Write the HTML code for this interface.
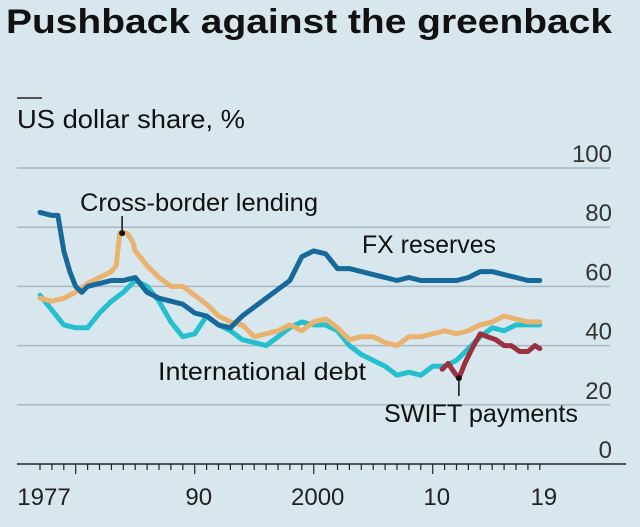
<!DOCTYPE html>
<html><head><meta charset="utf-8"><style>
body{margin:0;background:#d8e7ee;font-family:"Liberation Sans",sans-serif;}
svg{display:block}
</style></head><body>
<svg id="c" width="640" height="527">
<rect width="640" height="527" fill="#d8e7ee"/>
<text x="6" y="33" font-size="34" font-weight="bold" fill="#111" textLength="606" lengthAdjust="spacingAndGlyphs">Pushback against the greenback</text>
<line x1="17" y1="98" x2="42" y2="98" stroke="#222" stroke-width="1.5"/>
<text x="17" y="128" font-size="26" fill="#111" textLength="228" lengthAdjust="spacingAndGlyphs">US dollar share, %</text>
<g id="grid"></g><g id="series"></g><g id="axis"></g>
<text x="80" y="211" font-size="25" fill="#111" textLength="238" lengthAdjust="spacingAndGlyphs">Cross-border lending</text>
<text x="362" y="253" font-size="25" fill="#111" textLength="134" lengthAdjust="spacingAndGlyphs">FX reserves</text>
<text x="158" y="380" font-size="25" fill="#111" textLength="208" lengthAdjust="spacingAndGlyphs">International debt</text>
<text x="384" y="422" font-size="25" fill="#111" textLength="194" lengthAdjust="spacingAndGlyphs">SWIFT payments</text>
</svg>
<script>
const yTicks=[0,20,40,60,80,100];
const xLabels=[[1977,"1977"],[1990,"90"],[2000,"2000"],[2010,"10"],[2019,"19"]];
const fxYears=[1977,1978,1978.5,1979,1979.5,1980,1980.5,1981,1982,1983,1984,1985,1986,1987,1988,1989,1990,1991,1992,1993,1994,1995,1996,1997,1998,1999,2000,2001,2002,2003,2004,2005,2006,2007,2008,2009,2010,2011,2012,2013,2014,2015,2016,2017,2018,2019];
const fxVals=[85,84,84,72,65,60,58,60,61,62,62,63,58,56,55,54,51,50,47,46,50,53,56,59,62,70,72,71,66,66,65,64,63,62,63,62,62,62,62,63,65,65,64,63,62,62];
const annualYears=[1977,1978,1979,1980,1981,1982,1983,1984,1985,1986,1987,1988,1989,1990,1991,1992,1993,1994,1995,1996,1997,1998,1999,2000,2001,2002,2003,2004,2005,2006,2007,2008,2009,2010,2011,2012,2013,2014,2015,2016,2017,2018,2019];
const lendYears=[1977,1978,1979,1980,1981,1982,1983,1983.4,1983.7,1984.3,1984.8,1985,1986,1987,1988,1989,1990,1991,1992,1993,1994,1995,1996,1997,1998,1999,2000,2001,2002,2003,2004,2005,2006,2007,2008,2009,2010,2011,2012,2013,2014,2015,2016,2017,2018,2019];
const lendVals=[56,55,56,58,61,63,65,67,78,78,75,72,67,63,60,60,57,54,50,48,47,43,44,45,47,45,48,49,46,42,43,43,41,40,43,43,44,45,44,45,47,48,50,49,48,48];
const debtVals=[57,52,47,46,46,51,55,58,62,60,55,48,43,44,50,47,45,42,41,40,43,46,48,47,47,45,40,37,35,33,30,31,30,33,33,35,39,43,46,45,47,47,47];
const swiftYears=[2010.8,2011.3,2011.8,2012.2,2012.7,2013.3,2014,2014.6,2015.3,2016,2016.6,2017.3,2018,2018.6,2019];
const swiftVals=[32,34,31,29,34,39,44,43,42,40,40,38,38,40,39];

const X=y=>40+(y-1977)*11.9;
const Y=v=>464-v*2.96;
const NS="http://www.w3.org/2000/svg";
function mk(tag,attrs,parent){const e=document.createElementNS(NS,tag);for(const k in attrs)e.setAttribute(k,attrs[k]);parent.appendChild(e);return e;}
const grid=document.getElementById('grid'),axis=document.getElementById('axis'),ser=document.getElementById('series');
yTicks.forEach(t=>{
  if(t>0){const l=mk('line',{x1:17,x2:610,y1:Y(t),y2:Y(t),stroke:'#a9b8c0','stroke-width':1.5},grid);
  
  }
  const tx=mk('text',{x:612,y:Y(t)-6,'text-anchor':'end','font-size':24,fill:'#333'},grid);tx.textContent=t;
  
  
});
const base=mk('line',{x1:17,x2:626,y1:Y(0),y2:Y(0),stroke:'#222','stroke-width':1.5},axis);


for(let yr=1977;yr<=2019;yr++){
  const major=yr%10===0;
  const t=mk('line',{x1:X(yr),x2:X(yr),y1:Y(0),y2:Y(0)+(major?10:6),stroke:'#222','stroke-width':1.2},axis);
  
  
}
xLabels.forEach(([yr,lab])=>{
  const t=mk('text',{x:X(yr)+4,y:505,'text-anchor':'middle','font-size':24,fill:'#222'},axis);t.textContent=lab;
  
  
});
function line(xs,vs,color,name){
  const d=xs.map((x,i)=>(i?'L':'M')+X(x).toFixed(1)+','+Y(vs[i]).toFixed(1)).join('');
  const p=mk('path',{d:d,fill:'none',stroke:color,'stroke-width':5,'stroke-linejoin':'round','stroke-linecap':'round'},ser);
  
  
}
line(annualYears,debtVals,'#25c0cf','series-international-debt');
line(lendYears,lendVals,'#e9b26f','series-cross-border-lending');
line(fxYears,fxVals,'#17699b','series-fx-reserves');
line(swiftYears,swiftVals,'#9a3140','series-swift-payments');
const l1=mk('line',{x1:X(1983.9),x2:X(1983.9),y1:216,y2:Y(78),stroke:'#111','stroke-width':1.5},ser);


const d1=mk('circle',{cx:X(1983.9),cy:Y(78),r:3,fill:'#111'},ser);


const l2=mk('line',{x1:X(2012.2),x2:X(2012.2),y1:Y(29),y2:396,stroke:'#111','stroke-width':1.5},ser);


const d2=mk('circle',{cx:X(2012.2),cy:Y(29),r:3,fill:'#111'},ser);


</script>
</body></html>
